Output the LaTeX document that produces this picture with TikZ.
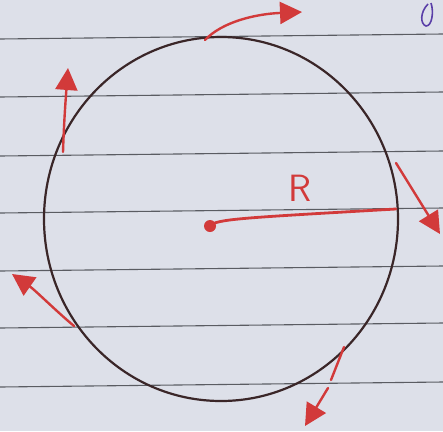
\documentclass[tikz,border=0pt]{standalone}
\usetikzlibrary{arrows.meta}
\definecolor{paper}{HTML}{DDE0E9}
\definecolor{rule}{HTML}{5A5C62}
\definecolor{ink}{HTML}{3A2628}
\definecolor{redpen}{HTML}{D23A3A}
\definecolor{purplepen}{HTML}{5A3FA8}
\tikzset{
  ruleline/.style={rule, line width=1.1pt},
  circ/.style={ink, line width=2.2pt},
  vec/.style={redpen, line width=2.4pt, line cap=round,
    -{Triangle[length=22pt,width=22pt]}},
  radius/.style={redpen, line width=2.8pt, line cap=round},
}
\begin{document}
\begin{tikzpicture}[x=1pt,y=-1pt]
\fill[paper] (0,0) rectangle (443,431);
\useasboundingbox (0,0) rectangle (443,431);
% ruled lines
\foreach \y in {39,97,156,213,271,328,387}
  \draw[ruleline] (0,\y) -- (443,\y-5);
% purple mark
\draw[purplepen, line width=1.6pt] (428,4) .. controls (420,12) and (420,24) .. (426,26) .. controls (432,26) and (434,12) .. (431,3);
% circle
\coordinate (O) at (221,219);
\draw[circ] (O) ellipse [x radius=177, y radius=182];
% points on circle
\coordinate (ctr) at (210,226);
\coordinate (rend) at (396,209);
\coordinate (pTop) at (205,40);
\coordinate (pUL) at (63,152);
\coordinate (pR) at (396,163);
\coordinate (pLL) at (74,326);
\coordinate (pB) at (344,347);
% arrow tips
\coordinate (tTop) at (302,12);
\coordinate (tUL) at (68,68);
\coordinate (tR) at (440,234);
\coordinate (tLL) at (12,274);
\coordinate (tB) at (305,426);
% radius
\fill[redpen] (ctr) circle (6);
\draw[radius] (ctr) .. controls (216,219) and (240,218) .. (rend);
\node[redpen, font=\fontsize{38}{40}\sffamily] (Rlab) at (300,188) {R};
% velocity arrows
\draw[vec] (pTop) .. controls (222,22) and (255,14) .. (tTop);
\draw[vec] (pUL) .. controls (64,120) and (66,95) .. (tUL);
\draw[vec] (pR) -- (tR);
\draw[vec] (pLL) .. controls (55,310) and (35,290) .. (tLL);
\draw[redpen, line width=2.4pt, line cap=round] (pB) -- (331,380);
\draw[vec] (328,388) -- (tB);
\end{tikzpicture}
\end{document}
